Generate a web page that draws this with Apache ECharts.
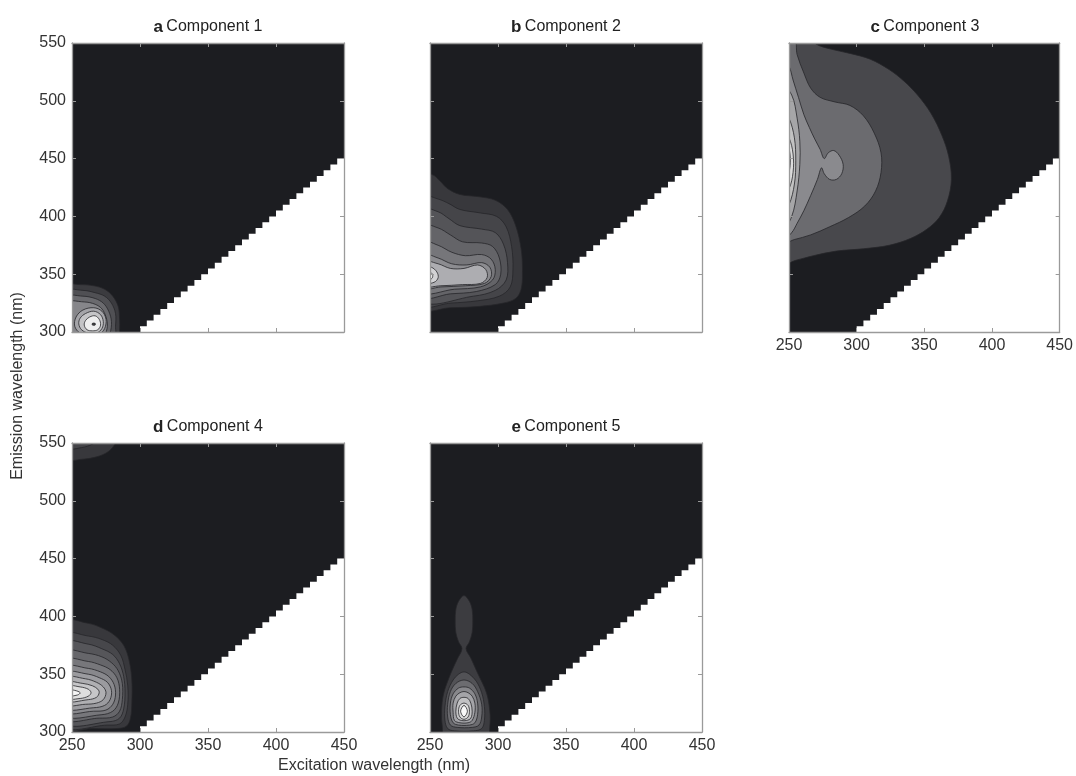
<!DOCTYPE html>
<html><head><meta charset="utf-8">
<script src="https://cdn.jsdelivr.net/npm/echarts/dist/echarts.min.js"></script>
<style>html,body{margin:0;padding:0;background:#fff}#main{width:1076px;height:776px}</style>
</head><body><div id="main"></div>
<script>
// ---------- data ----------
const panelLetters = ['a', 'b', 'c', 'd', 'e'];
const panelNames = ['Component 1', 'Component 2', 'Component 3', 'Component 4', 'Component 5'];
const exRange = [250, 450];
const emRange = [300, 550];
const tickStep = 50;
const xAxisName = 'Excitation wavelength (nm)';
const yAxisName = 'Emission wavelength (nm)';

// Rayleigh-scatter cut-off (no data below this emission, white staircase)
const rayleighEx = [300,305,310,315,320,325,330,335,340,345,350,355,360,365,370,375,380,385,390,395,400,405,410,415,420,425,430,435,440,445,450];
const rayleighEm = [305,310,315,320,325,330,335,340,345,350,355,360,365,370,375,380,385,390,395,400,405,410,415,420,425,430,435,440,445,450,450];

// Contour-level regions, [excitation, emission] vertices, from lowest to highest level
const comp1 = [
  [[244,340],[256,341],[266,340],[274,337],[280,331],[284,322],[285,311],[285,302],[284,296],[244,296]],
  [[244,335],[258,336],[267,334],[274,331],[279,325],[282,316],[282,305],[281,296],[244,296]],
  [[244,330],[258,331],[267,329],[273,325],[277,318],[279,309],[278,299],[276,296],[244,296]],
  [[244,325],[259,326],[267,324],[272,320],[275,313],[276,305],[274,297],[272,296],[244,296]],
  [[253,313],[258,319],[266,321],[272,318],[275,311],[274,303],[270,298],[263,297],[256,299],[252,305]],
  [[256,312],[260,316],[266,318],[271,315],[273,309],[272,303],[268,299],[262,299],[257,302],[255,307]],
  [[260,310],[263,313],[267,314],[270,311],[271,306],[269,302],[265,301],[261,302],[259,306]],
  [[265,307.5],[267,307.5],[267,306],[265,306]]
];
const comp2 = [
  [[244,437],[252,436],[257,431],[263,424],[272,419],[286,417],[298,414],[307,406],[313,392],[317,372],[318,352],[317,337],[313,329],[304,325],[285,322],[265,321],[244,321]],
  [[244,417],[256,415],[264,411],[272,406],[287,403],[299,400],[306,391],[310,374],[311,354],[309,339],[301,331],[285,327],[265,325],[244,324]],
  [[244,406],[256,404],[264,398],[272,392],[288,389],[298,386],[304,376],[307,360],[306,345],[298,336],[282,331],[244,328]],
  [[244,392],[256,390],[265,384],[274,378],[288,377],[296,374],[301,364],[302,350],[298,341],[284,335],[265,333],[244,331]],
  [[244,378],[256,375],[266,369],[276,366],[288,367],[295,363],[298,354],[296,345],[287,339],[268,337],[244,335]],
  [[244,367],[256,364],[266,359],[277,358],[288,360],[294,356],[295,348],[290,342],[276,340],[258,339],[244,338]],
  [[244,361],[256,359],[265,355],[275,355],[285,358],[291,354],[292,347],[287,342],[274,341],[258,340],[244,340]],
  [[244,357],[251,356],[255,352],[256,347],[253,343],[244,342]],
  [[244,353],[250,352],[252,349],[251,346],[244,345]]
];
const comp3 = [
  [[244,554],[266,554],[270,549],[280,545],[295,541],[310,536],[324,527],[335,517],[345,505],[355,489],[363,470],[368,452],[370,432],[367,413],[361,399],[352,389],[340,381],[324,375],[305,372],[285,370],[268,366],[255,362],[244,359]],
  [[244,554],[254,554],[256,540],[261,524],[266,511],[273,503],[284,499],[295,496],[305,487],[313,472],[318,455],[318,438],[314,422],[306,409],[294,399],[280,391],[266,384],[254,380],[244,377]],
  [[244,540],[250,530],[253,518],[257,503],[261,488],[265,477],[269,467],[273,458],[276,450],[279,455],[283,457],[287,453],[290,445],[289,437],[285,432],[280,432],[276,437],[274,442],[271,432],[266,418],[261,405],[256,394],[252,386],[244,378]],
  [[244,515],[252,505],[256,485],[258,465],[258,445],[256,422],[252,400],[244,385]],
  [[244,495],[250,485],[254,468],[255,448],[254,428],[250,410],[244,400]],
  [[244,478],[250,468],[253,454],[253,438],[250,424],[244,416]],
  [[244,470],[249,462],[251,450],[250,438],[247,428],[244,424]]
];
const comp4 = [
  [[244,554],[283,554],[281,548],[276,542],[268,538],[258,536],[244,536]],
  [[244,554],[270,554],[265,549],[257,546],[244,545]],
  [[244,395],[262,394],[272,390],[281,384],[288,375],[292,362],[294,345],[294,325],[293,312],[290,305],[283,303],[265,303],[244,303]],
  [[244,384],[262,383],[272,380],[280,375],[286,366],[289,354],[291,340],[291,324],[289,313],[285,307],[276,306],[244,306]],
  [[244,377],[262,376],[272,372],[280,367],[285,359],[288,348],[289,334],[288,320],[285,312],[278,309],[244,309]],
  [[244,369],[262,368],[272,365],[279,360],[284,353],[287,342],[287,328],[285,318],[280,313],[270,312],[244,312]],
  [[244,362],[262,361],[271,358],[278,354],[283,347],[285,337],[284,325],[280,318],[272,315],[244,315]],
  [[244,356],[262,355],[271,352],[277,348],[281,341],[282,332],[280,324],[275,319],[266,318],[244,318]],
  [[244,351],[262,350],[270,347],[276,343],[279,336],[278,328],[274,323],[266,321],[244,321]],
  [[244,347],[260,346],[268,343],[273,339],[275,334],[273,328],[268,325],[260,324],[244,324]],
  [[244,343],[258,342],[265,340],[269,337],[270,334],[268,330],[262,328],[244,327]],
  [[244,340],[256,339],[262,337],[264,334],[262,331],[256,329],[244,329]],
  [[244,337],[252,336],[256,334],[254,332],[244,331]]
];
const comp5 = [
  [[261,296],[259,305],[258.5,318],[260,333],[265,350],[270,363],[273.5,372],[271,378],[269,386],[268.5,396],[269,406],[271,413],[275,418],[279,413],[281,406],[281.5,396],[281,386],[279,378],[276.5,372],[280,364],[285,351],[291.5,334],[294,318],[294,305],[292,296]],
  [[263,303],[261,310],[261,322],[263,335],[267,345],[271,350],[275,352],[279,350],[284,344],[288,334],[290,322],[290,310],[288,303],[282,301],[268,301]],
  [[265,306],[263,313],[263,324],[265,335],[269,342],[275,345],[281,342],[285,335],[288,324],[288,313],[286,306],[281,304],[270,304]],
  [[267,308],[265,315],[265,325],[267,333],[271,338],[275,339],[279,338],[283,333],[285,325],[285,315],[283,308],[279,306],[271,306]],
  [[268,310],[267,317],[267,325],[269,331],[272,334],[275,335],[278,334],[281,331],[283,325],[283,317],[281,310],[278,308],[272,308]],
  [[270,312],[269,318],[270,325],[272,329],[275,330],[278,329],[280,325],[281,318],[280,312],[277,310],[273,310]],
  [[272,313],[271,318],[272,323],[275,325],[278,323],[279,318],[278,313],[275,311]],
  [[275,323],[277.5,318],[275,313],[272.5,318]]
];
const contourSets = [comp1, comp2, comp3, comp4, comp5];

// ---------- styles ----------
const levelFills = [
  ['#3b3b3f','#505054','#6a6a6e','#86868a','#a4a4a8','#c4c4c6','#eeeeee','#444444'],
  ['#38383c','#454549','#545458','#646468','#76767a','#8c8c90','#adadb1','#d2d2d4','#f2f2f2'],
  ['#48484c','#6b6b6f','#8a8a8e','#a6a6a8','#c2c2c2','#dcdcdc','#f4f4f4'],
  ['#38383c','#444448','#38383c','#47474b','#56565a','#66666a','#77777b','#88888c','#9b9b9f','#afafb2','#c6c6c8','#dedede','#f5f5f5'],
  ['#3c3c40','#525256','#6c6c70','#88888c','#a4a4a8','#c2c2c4','#dfdfdf','#f8f8f8']
];
const FONT = '"Liberation Sans", Arial, Helvetica, sans-serif';
const gridPos = [[72,43],[430,43],[789,43],[72,443],[430,443]];
const GW = 272, GH = 289;
const showXLabels = [false,false,true,true,true];
const showYLabels = [true,false,false,true,false];

const grid = [], xAxis = [], yAxis = [], series = [], graphic = [];
const axLine = {show:true, onZero:false, lineStyle:{color:'#9a9a9a', width:1.3}};
const axTick = {show:true, inside:true, length:4, lineStyle:{color:'#9a9a9a', width:1}};

gridPos.forEach(([l,t], i) => {
  grid.push({left:l, top:t, width:GW, height:GH, show:true, backgroundColor:'#1c1d21', borderWidth:0});
  ['bottom','top'].forEach(pos => xAxis.push({
    gridIndex:i, type:'value', min:exRange[0], max:exRange[1], interval:tickStep, position:pos, z:10,
    axisLine:axLine, axisTick:axTick, splitLine:{show:false},
    axisLabel:{show: pos==='bottom' && showXLabels[i], margin:6, fontSize:16, color:'#333', fontFamily:FONT}
  }));
  ['left','right'].forEach(pos => yAxis.push({
    gridIndex:i, type:'value', min:emRange[0], max:emRange[1], interval:tickStep, position:pos, z:10,
    axisLine:axLine, axisTick:axTick, splitLine:{show:false},
    axisLabel:{show: pos==='left' && showYLabels[i], margin:6, fontSize:16, color:'#333', fontFamily:FONT}
  }));
  const polys = contourSets[i];
  series.push({
    type:'custom', xAxisIndex:2*i, yAxisIndex:2*i, clip:true, silent:true, z:2,
    data: polys.map((p,k) => [p[0][0], p[0][1], k]),
    renderItem: (params, api) => {
      const k = api.value(2);
      const pts = polys[k].map(p => api.coord(p));
      return {type:'polygon', shape:{points:pts, smooth:0.35},
        style:{fill:levelFills[i][k], stroke:'#26262a', lineWidth:0.8}};
    }
  });
  series.push({
    type:'line', xAxisIndex:2*i, yAxisIndex:2*i, step:'end', symbol:'none', silent:true, z:3,
    lineStyle:{width:0}, areaStyle:{color:'#ffffff', opacity:1, origin:'start'},
    data: rayleighEx.map((x,j) => [x, rayleighEm[j]])
  });
  graphic.push({type:'text', x:l+GW/2, y:t-16, z:20, style:{
    text:'{b|' + panelLetters[i] + '} {n|' + panelNames[i] + '}',
    align:'center', verticalAlign:'middle', textAlign:'center', textVerticalAlign:'middle',
    rich:{b:{fontWeight:'bold', fontSize:17, fontFamily:FONT, fill:'#222', color:'#222'},
          n:{fontSize:16, fontFamily:FONT, fill:'#222', color:'#222'}}
  }});
});
graphic.push({type:'text', x:18, y:386, rotation:Math.PI/2, z:20, style:{
  text:yAxisName, fontSize:16, fontFamily:FONT, fill:'#333', align:'center', verticalAlign:'middle', textAlign:'center', textVerticalAlign:'middle'}});
graphic.push({type:'text', x:374, y:766, z:20, style:{
  text:xAxisName, fontSize:16, fontFamily:FONT, fill:'#333', align:'center', verticalAlign:'middle', textAlign:'center', textVerticalAlign:'middle'}});

const chart = echarts.init(document.getElementById('main'), null, {renderer:'canvas'});
chart.setOption({animation:false, backgroundColor:'#ffffff', grid, xAxis, yAxis, series, graphic});
</script></body></html>
